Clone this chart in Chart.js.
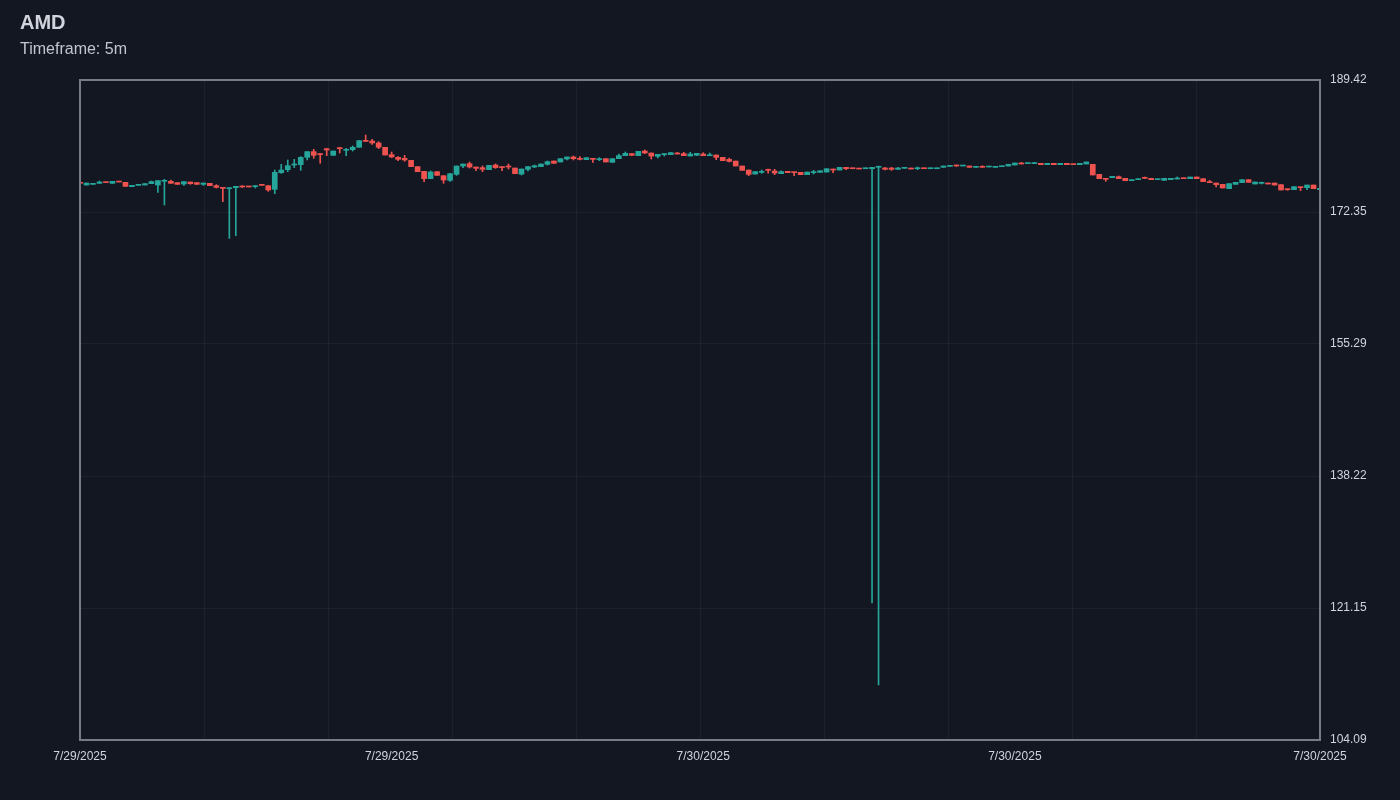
<!DOCTYPE html>
<html>
<head>
<meta charset="utf-8">
<title>AMD 5m</title>
<script src="https://cdn.jsdelivr.net/npm/chart.js@4.4.1/dist/chart.umd.min.js"></script>
<style>
  body { margin: 0; background: #131722; }
  #wrap { position: relative; width: 1400px; height: 800px; }
  #title { position: absolute; left: 20px; top: 12px; font: bold 20px/20px "Liberation Sans", Arial, sans-serif; color: #d1d4dc; }
  #sub { position: absolute; left: 20px; top: 41px; font: 16px/16px "Liberation Sans", Arial, sans-serif; color: #c3c6ce; }
</style>
</head>
<body>
<div id="wrap">
  <canvas id="chart" width="1400" height="800"></canvas>
  <div id="title">AMD</div>
  <div id="sub">Timeframe: 5m</div>
</div>
<script>
// 5 minute candles (192 bars)
const open = [
  176.15,175.84,175.93,176.06,176.23,176.06,176.32,176.19,175.63,175.80,175.84,176.02,
  175.84,176.32,176.32,176.15,175.97,176.23,176.15,175.93,176.06,175.76,175.54,175.37,
  175.50,175.67,175.67,175.63,175.89,175.76,175.28,177.44,177.83,178.43,178.47,179.42,
  180.16,179.89,180.54,179.68,180.67,180.33,180.41,180.72,181.62,181.53,181.28,180.72,
  179.77,179.42,179.29,179.03,178.22,177.61,176.66,177.57,177.05,176.45,177.22,178.30,
  178.60,178.17,178.09,177.83,178.43,178.22,178.30,178.04,177.25,177.87,178.17,178.22,
  178.52,178.95,178.82,179.21,179.47,179.29,179.12,179.29,179.12,179.25,178.78,179.25,
  179.64,179.90,179.64,180.24,179.98,179.55,179.77,179.77,179.98,179.90,179.59,179.68,
  179.85,179.63,179.72,179.42,179.16,178.94,178.30,177.78,177.26,177.48,177.87,177.65,
  177.31,177.61,177.52,177.48,177.18,177.44,177.48,177.52,177.91,177.78,178.13,178.04,
  178.00,177.95,177.95,178.13,178.04,178.04,177.87,178.00,178.04,177.95,178.04,177.95,
  177.95,178.13,178.25,178.34,178.30,178.30,178.13,178.25,178.17,178.13,178.21,178.30,
  178.43,178.69,178.61,178.61,178.65,178.47,178.65,178.47,178.65,178.56,178.47,178.56,
  178.52,177.22,176.71,176.79,176.92,176.71,176.40,176.53,176.83,176.71,176.53,176.45,
  176.53,176.62,176.75,176.66,176.88,176.66,176.28,176.10,175.93,175.37,175.93,176.15,
  176.53,175.97,176.06,176.10,176.10,175.89,175.33,175.24,175.59,175.50,175.84,175.24
];
const high = [
  176.15,176.10,176.02,176.36,176.23,176.32,176.32,176.19,175.80,175.89,176.02,176.36,
  176.41,176.58,176.49,176.15,176.28,176.23,176.15,176.10,176.06,175.89,175.54,175.50,
  175.67,175.76,175.67,175.76,175.89,175.76,177.78,178.52,179.08,179.16,179.51,180.16,
  180.46,179.94,180.59,180.24,180.72,180.59,180.89,181.58,182.31,181.75,181.45,180.72,
  180.11,179.51,179.68,179.03,178.22,177.61,177.66,177.57,177.05,177.31,178.30,178.56,
  178.82,178.17,178.30,178.39,178.56,178.22,178.56,178.04,177.91,178.22,178.43,178.56,
  178.95,178.95,179.25,179.47,179.59,179.51,179.38,179.29,179.38,179.25,179.25,179.85,
  180.11,179.90,180.20,180.37,179.98,179.81,179.90,180.03,180.07,180.07,180.07,179.94,
  180.02,179.98,179.72,179.42,179.33,178.94,178.30,177.78,177.57,177.78,177.91,177.87,
  177.69,177.61,177.52,177.48,177.52,177.74,177.69,177.95,177.91,178.13,178.13,178.04,
  178.00,178.04,178.13,178.30,178.13,178.13,178.13,178.13,178.04,178.17,178.04,178.04,
  178.04,178.30,178.38,178.43,178.34,178.30,178.25,178.34,178.21,178.21,178.30,178.51,
  178.69,178.78,178.69,178.78,178.65,178.65,178.65,178.65,178.65,178.56,178.65,178.82,
  178.52,177.22,176.71,176.96,177.01,176.71,176.53,176.66,176.88,176.71,176.62,176.71,
  176.71,176.88,176.75,176.88,176.88,176.66,176.45,176.10,175.93,176.02,176.19,176.53,
  176.53,176.23,176.23,176.10,176.10,175.89,175.33,175.63,175.59,175.84,175.84,175.41
];
const low = [
  176.06,175.84,175.93,176.06,176.15,176.06,176.23,175.67,175.63,175.80,175.84,176.02,
  174.90,173.26,176.06,175.93,175.80,175.93,175.93,175.80,175.76,175.46,173.69,168.95,
  169.29,175.50,175.59,175.46,175.80,175.03,174.72,177.35,177.57,178.09,177.74,179.08,
  179.29,178.65,179.64,179.68,179.98,179.64,180.24,180.72,181.45,181.10,180.54,179.72,
  179.38,178.99,178.91,178.22,177.57,176.28,176.66,177.09,176.06,176.32,177.09,178.09,
  178.04,177.70,177.57,177.83,178.00,177.70,177.91,177.31,177.14,177.66,178.09,178.22,
  178.43,178.65,178.82,179.08,179.08,179.08,179.12,178.78,178.99,178.82,178.78,179.25,
  179.64,179.68,179.64,179.90,179.21,179.34,179.59,179.77,179.85,179.64,179.59,179.68,
  179.63,179.63,179.12,178.99,178.82,178.30,177.74,177.05,177.26,177.35,177.39,177.18,
  177.31,177.44,177.05,177.18,177.18,177.26,177.48,177.52,177.44,177.78,177.82,177.95,
  177.91,177.95,121.80,111.20,177.78,177.74,177.87,178.00,177.91,177.82,177.95,177.95,
  177.95,178.13,178.25,178.25,178.30,178.13,178.13,178.13,178.17,178.13,178.21,178.30,
  178.43,178.56,178.61,178.61,178.47,178.47,178.47,178.47,178.47,178.47,178.47,178.56,
  177.14,176.66,176.32,176.79,176.66,176.40,176.40,176.53,176.66,176.53,176.53,176.45,
  176.53,176.62,176.66,176.66,176.66,176.28,176.15,175.59,175.46,175.37,175.93,176.15,
  176.19,175.97,175.97,175.97,175.84,175.20,175.15,175.24,175.11,175.24,175.37,175.24
];
const close = [
  176.06,176.10,176.02,176.23,176.15,176.32,176.23,175.67,175.80,175.89,176.02,176.28,
  176.41,176.41,176.06,175.93,176.28,176.02,175.93,176.10,175.76,175.54,175.41,175.50,
  175.67,175.59,175.59,175.76,175.80,175.20,177.48,177.78,178.34,178.47,179.42,180.16,
  179.68,179.77,180.37,180.24,180.54,180.41,180.72,181.58,181.49,181.28,180.72,179.72,
  179.47,179.16,179.08,178.22,177.57,176.66,177.53,177.09,176.49,177.31,178.30,178.56,
  178.17,178.00,177.87,178.39,178.09,178.09,178.17,177.31,177.91,178.22,178.34,178.56,
  178.86,178.65,179.25,179.47,179.25,179.16,179.38,179.16,179.21,178.82,179.25,179.64,
  179.94,179.68,180.20,179.98,179.59,179.81,179.90,180.03,179.85,179.64,179.85,179.94,
  179.63,179.76,179.42,178.99,178.90,178.30,177.74,177.22,177.57,177.61,177.74,177.39,
  177.57,177.44,177.44,177.18,177.52,177.57,177.69,177.95,177.78,178.13,177.95,177.95,
  177.91,178.04,178.13,178.21,177.87,177.87,178.04,178.13,177.91,178.04,177.95,178.04,
  178.04,178.30,178.38,178.30,178.34,178.13,178.25,178.13,178.21,178.21,178.30,178.51,
  178.69,178.56,178.69,178.69,178.47,178.65,178.47,178.65,178.47,178.47,178.65,178.82,
  177.14,176.66,176.58,176.96,176.66,176.40,176.53,176.66,176.71,176.53,176.62,176.71,
  176.71,176.75,176.66,176.88,176.66,176.28,176.15,175.89,175.46,176.02,176.19,176.53,
  176.19,176.23,176.15,175.97,175.84,175.20,175.24,175.63,175.50,175.84,175.37,175.41
];

// axis labels
const yTicks = [104.09, 121.15, 138.22, 155.29, 172.35, 189.42];
const xTickIndex = [0, 48, 96, 144, 191];
const xTickText = ['7/29/2025', '7/29/2025', '7/30/2025', '7/30/2025', '7/30/2025'];
const xGridSteps = [0, 1, 2, 3, 4, 5, 6, 7, 8, 9, 10];

const UP = '#26a69a';
const DOWN = '#ef5350';
const TEXT = '#d1d4dc';
const GRID = 'rgba(255,255,255,0.045)';
const FONT = '"Liberation Sans", Arial, sans-serif';

function candleColor(ctx) {
    const i = ctx.dataIndex;
    return close[i] >= open[i] ? UP : DOWN;
}

const labels = open.map((v, i) => i);
const bodies = open.map((o, i) => [o, close[i]]);
const wicks = low.map((l, i) => [l, high[i]]);

// frame round the plot area
const frame = {
    id: 'frame',
    afterDraw(chart) {
        const a = chart.chartArea;
        const ctx = chart.ctx;
        ctx.save();
        ctx.strokeStyle = '#787b86';
        ctx.lineWidth = 2;
        ctx.strokeRect(a.left, a.top, a.right - a.left, a.bottom - a.top);
        ctx.restore();
    }
};

new Chart(document.getElementById('chart'), {
    type: 'bar',
    data: {
        labels: labels,
        datasets: [
            {
                label: 'body',
                data: bodies,
                backgroundColor: candleColor,
                barThickness: 5,
                minBarLength: 1,
                grouped: false,
                borderWidth: 0
            },
            {
                label: 'wick',
                data: wicks,
                backgroundColor: candleColor,
                barThickness: 1,
                grouped: false,
                borderWidth: 0
            }
        ]
    },
    options: {
        responsive: false,
        animation: false,
        layout: { padding: { left: 80, top: 80, right: 0, bottom: 0 } },
        plugins: {
            legend: { display: false },
            tooltip: { enabled: false }
        },
        scales: {
            x: {
                type: 'category',
                position: 'bottom',
                offset: false,
                grid: { display: false, offset: false, drawTicks: false },
                border: { display: false },
                afterBuildTicks(scale) {
                    scale.ticks = xTickIndex.map(v => ({ value: v }));
                },
                afterFit(scale) { scale.height = 60; },
                ticks: {
                    autoSkip: false,
                    maxRotation: 0,
                    padding: 9,
                    color: TEXT,
                    font: { family: FONT, size: 12 },
                    callback: (value, index) => xTickText[index]
                }
            },
            xg: {
                type: 'linear',
                position: 'top',
                min: 0,
                max: 10,
                offset: false,
                grid: { color: GRID, drawTicks: false, offset: false },
                border: { display: false },
                ticks: { display: false },
                afterDataLimits(scale) { scale.min = 0; scale.max = 10; },
                afterBuildTicks(scale) {
                    scale.ticks = xGridSteps.map(v => ({ value: v }));
                },
                afterFit(scale) { scale.height = 0; }
            },
            y: {
                type: 'linear',
                position: 'right',
                min: yTicks[0],
                max: yTicks[yTicks.length - 1],
                grid: { color: GRID, drawTicks: false },
                border: { display: false },
                afterBuildTicks(scale) {
                    scale.ticks = yTicks.map(v => ({ value: v }));
                },
                afterFit(scale) { scale.width = 80; },
                ticks: {
                    padding: 10,
                    color: TEXT,
                    font: { family: FONT, size: 12 },
                    callback: v => v.toFixed(2)
                }
            }
        }
    },
    plugins: [frame]
});
</script>
</body>
</html>
